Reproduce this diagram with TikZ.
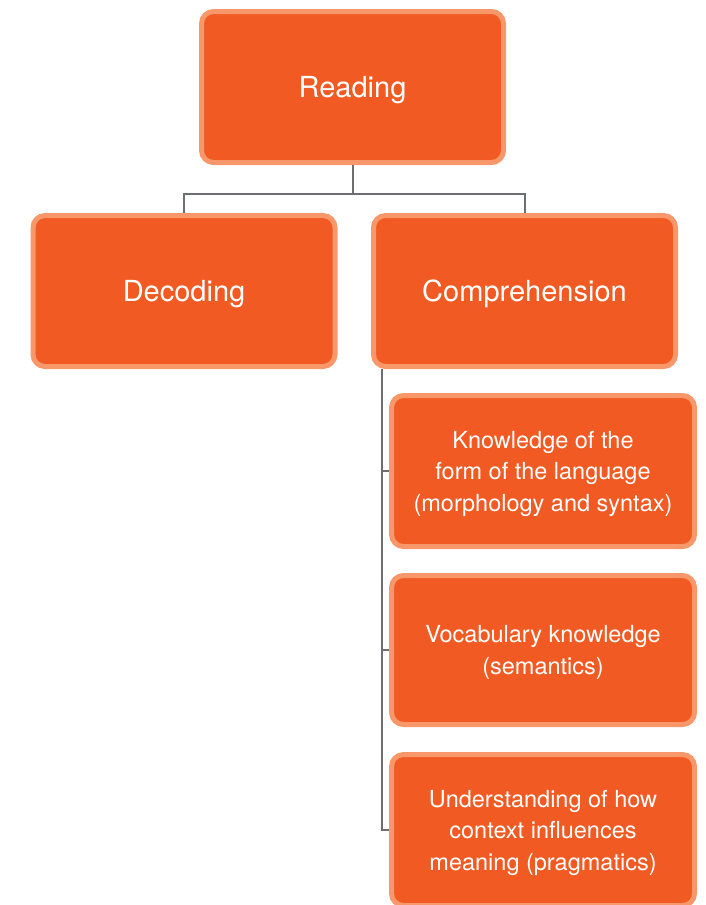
\documentclass[tikz,border=0pt]{standalone}
\usepackage{fontspec}
\setmainfont{TeX Gyre Heros}
\definecolor{boxfill}{HTML}{F15A22}
\definecolor{boxrim}{HTML}{F8976A}
\definecolor{linkgray}{HTML}{6D6E71}

\begin{document}
\begin{tikzpicture}[
  x=1pt, y=-1pt,
  box/.style={draw=boxrim, fill=boxfill, line width=5pt, rounded corners=12pt, text=white, align=center, text depth=-4pt, minimum width=302pt, minimum height=151pt, font=\fontsize{29}{35}\selectfont},
  subbox/.style={box, minimum width=303pt, font=\fontsize{23.5}{31.5}\selectfont},
  link/.style={draw=linkgray, line width=2pt}
]
\useasboundingbox (0,0) rectangle (706,905);

\node [box] (read) at (352.5,87) {Reading};
\node [box] (dec) at (184,291) {Decoding};
\node [box] (comp) at (524.5,291) {Comprehension};

\node [subbox] (form) at (543,471) {Knowledge of the\\form of the language\\(morphology and syntax)};
\node [subbox, minimum height=149pt] (vocab) at (543,650) {Vocabulary knowledge\\(semantics)};
\node [subbox] (prag) at (543,830) {Understanding of how\\context influences\\meaning (pragmatics)};

\draw [link] (read.south) -- ++(0,29) -| (dec.north);
\draw [link] (read.south) -- ++(0,29) -| (comp.north);

\draw [link] (comp.south west) ++(11,0) |- (form.west);
\draw [link] (comp.south west) ++(11,0) |- (vocab.west);
\draw [link] (comp.south west) ++(11,0) |- (prag.west);
\end{tikzpicture}
\end{document}
